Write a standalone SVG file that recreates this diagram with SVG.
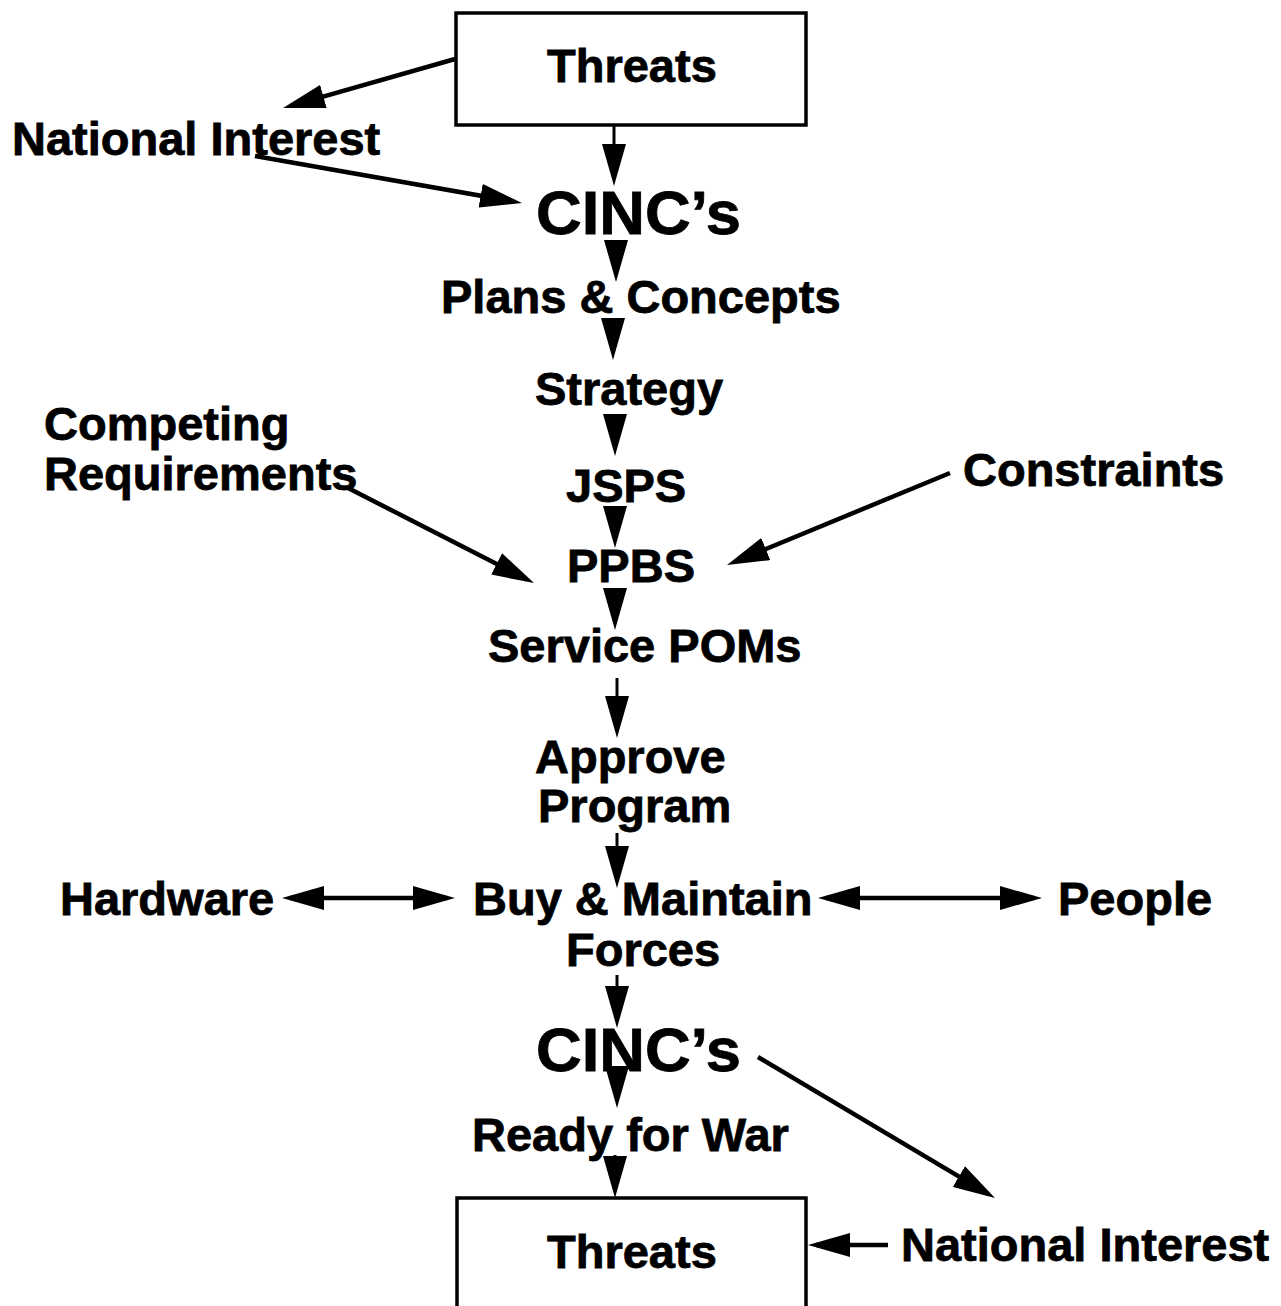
<svg xmlns="http://www.w3.org/2000/svg" width="1281" height="1306" viewBox="0 0 1281 1306">
<defs>
<style>
.t{font-family:"Liberation Sans",Arial,sans-serif;font-weight:bold;font-size:47px;fill:#000;stroke:#000;stroke-width:0.8}
.big{font-size:62px}
.box{fill:#fff;stroke:#000;stroke-width:3.5}
.c{stroke:#000;stroke-width:4.5;fill:none;marker-end:url(#ah)}
.thin{stroke-width:3}
.dbl{marker-start:url(#ah)}
</style>
<marker id="ah" viewBox="0 0 42 24" markerUnits="userSpaceOnUse" markerWidth="42" markerHeight="24" refX="34" refY="12" orient="auto-start-reverse">
<path d="M0,0 L42,12 L0,24 z" fill="#000"/>
</marker>
</defs>
<rect width="1281" height="1306" fill="#fff"/>
<g id="threats-top"><rect class="box" x="456" y="13" width="350" height="112"/><text class="t" x="547" y="82">Threats</text></g>
<g id="national-interest-top"><text class="t" x="12" y="155">National Interest</text></g>
<g id="cincs-top"><text class="t big" x="536" y="234" textLength="205" lengthAdjust="spacingAndGlyphs">CINC’s</text></g>
<g id="plans"><text class="t" x="441" y="313">Plans &amp; Concepts</text></g>
<g id="strategy"><text class="t" x="535" y="405">Strategy</text></g>
<g id="competing"><text class="t" x="44" y="440">Competing</text><text class="t" x="44" y="490">Requirements</text></g>
<g id="jsps"><text class="t" x="566" y="502">JSPS</text></g>
<g id="constraints"><text class="t" x="963" y="486">Constraints</text></g>
<g id="ppbs"><text class="t" x="567" y="582">PPBS</text></g>
<g id="poms"><text class="t" x="488" y="662">Service POMs</text></g>
<g id="approve"><text class="t" x="535" y="773">Approve</text><text class="t" x="538" y="822">Program</text></g>
<g id="hardware"><text class="t" x="60" y="915">Hardware</text></g>
<g id="buy"><text class="t" x="473" y="915">Buy &amp; Maintain</text><text class="t" x="566" y="966">Forces</text></g>
<g id="people"><text class="t" x="1058" y="915">People</text></g>
<g id="cincs-bottom"><text class="t big" x="536" y="1071" textLength="205" lengthAdjust="spacingAndGlyphs">CINC’s</text></g>
<g id="ready"><text class="t" x="472" y="1151">Ready for War</text></g>
<g id="threats-bottom"><rect class="box" x="457" y="1198" width="349" height="140"/><text class="t" x="547" y="1268">Threats</text></g>
<g id="national-interest-bottom"><text class="t" x="901" y="1261">National Interest</text></g>
<g id="connectors">
<line class="c" x1="455" y1="59" x2="290.7" y2="105.8"/>
<line class="c" x1="255" y1="156" x2="514.1" y2="201.6"/>
<line class="c thin" x1="614" y1="125" x2="614" y2="178"/>
<line class="c thin" x1="616" y1="240" x2="616" y2="274"/>
<line class="c thin" x1="613" y1="320" x2="613" y2="352"/>
<line class="c thin" x1="615" y1="414" x2="615" y2="448"/>
<line class="c thin" x1="615" y1="506" x2="615" y2="540"/>
<line class="c" x1="348" y1="488" x2="526.9" y2="579.4"/>
<line class="c" x1="950" y1="473" x2="734.4" y2="562"/>
<line class="c thin" x1="615" y1="588" x2="615" y2="622"/>
<line class="c thin" x1="617" y1="678" x2="617" y2="730"/>
<line class="c thin" x1="617" y1="833" x2="617" y2="880"/>
<line class="c dbl" x1="290" y1="898" x2="447" y2="898"/>
<line class="c dbl" x1="826" y1="898" x2="1034" y2="898"/>
<line class="c thin" x1="617" y1="975" x2="617" y2="1020"/>
<line class="c thin" x1="617" y1="1066" x2="617" y2="1100"/>
<line class="c" x1="758" y1="1057" x2="988.1" y2="1193.9"/>
<line class="c thin" x1="615" y1="1155" x2="615" y2="1190"/>
<line class="c" x1="888" y1="1245" x2="816" y2="1245"/>
</g>
</svg>
